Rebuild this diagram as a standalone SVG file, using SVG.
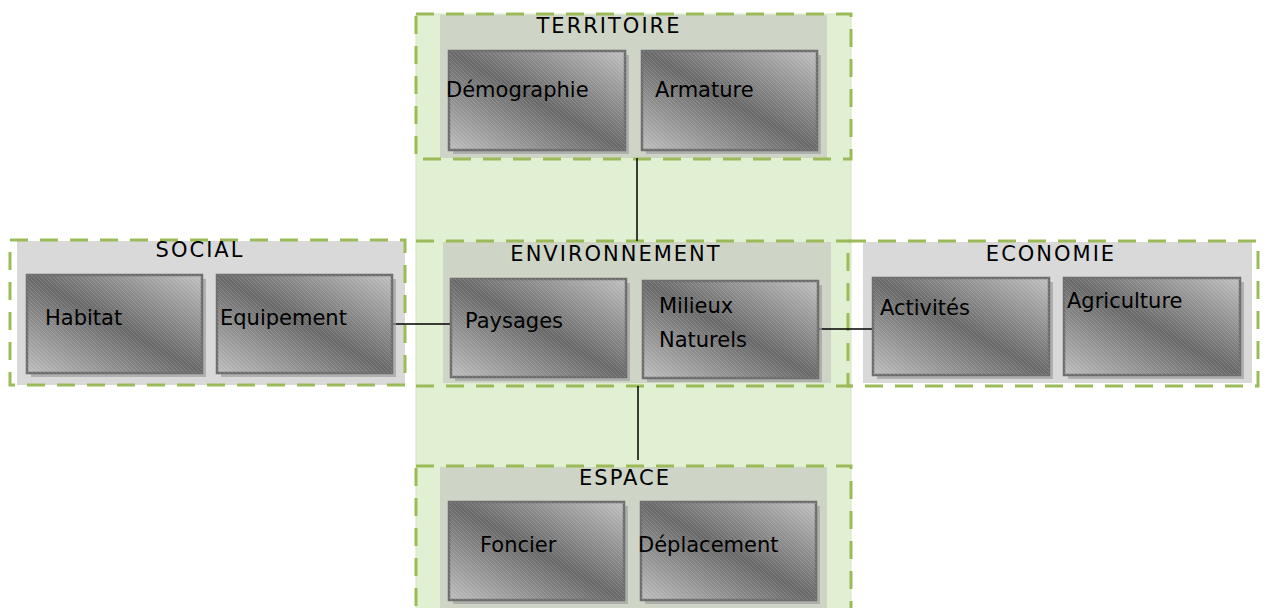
<svg xmlns="http://www.w3.org/2000/svg" width="1267" height="608" viewBox="0 0 1267 608">
<style>
.dash{fill:none;stroke:#9BBB59;stroke-width:3;stroke-dasharray:18 12}
.panelG{fill:#CED5C6}
.panelS{fill:#D9D9D9}
.shadow{fill:#9E9E9E;opacity:0.7}
.box{fill:url(#boxg);stroke:#6E6E6E;stroke-width:2.5}
.hatch{fill:url(#hatch);stroke:none}
.title{font-family:"DejaVu Sans",sans-serif;font-size:21px;fill:#000;text-anchor:middle;letter-spacing:2px}
.lbl{font-family:"DejaVu Sans",sans-serif;font-size:21px;fill:#000}
.conn{stroke:#000;stroke-width:1.5;fill:none}
</style>
<defs>
<linearGradient id="boxg" x1="0" y1="1" x2="1" y2="0">
<stop offset="0" stop-color="#BDBDBD"/>
<stop offset="0.5" stop-color="#686868"/>
<stop offset="1" stop-color="#BFBFBF"/>
</linearGradient>
<pattern id="hatch" width="4" height="4" patternUnits="userSpaceOnUse">
<path d="M0,0 L4,4" stroke="#FFFFFF" stroke-width="0.6" opacity="0.25"/>
</pattern>
</defs>
<rect width="1267" height="608" fill="#FFFFFF"/>
<!-- green band -->
<rect x="416" y="14" width="435" height="600" fill="#E1F0D3" stroke="#D3E4C3" stroke-width="1"/>

<g id="territoire">
<rect class="panelG" x="440" y="15" width="387" height="143"/>
<rect class="dash" x="416" y="14" width="435" height="145"/>
<text class="title" x="609" y="33">TERRITOIRE</text>
</g>
<g id="social">
<rect class="panelS" x="17" y="241" width="388" height="144"/>
<rect class="dash" x="10" y="240" width="395" height="145"/>
<text class="title" x="200" y="257">SOCIAL</text>
</g>
<g id="environnement">
<rect class="panelG" x="443" y="242" width="388" height="141"/>
<line class="dash" x1="416" y1="241" x2="851" y2="241"/>
<line class="dash" x1="416" y1="386" x2="851" y2="386"/>
<text class="title" x="616" y="261">ENVIRONNEMENT</text>
</g>
<g id="economie">
<rect class="panelS" x="863" y="242" width="389" height="141"/>
<rect class="dash" x="848" y="241" width="410" height="145"/>
<text class="title" x="1051" y="261">ECONOMIE</text>
</g>
<g id="espace">
<rect class="panelG" x="440" y="467" width="387" height="150"/>
<rect class="dash" x="416" y="466" width="435" height="160"/>
<text class="title" x="625" y="485">ESPACE</text>
</g>

<g id="connectors">
<line class="conn" x1="637" y1="158" x2="637" y2="241"/>
<line class="conn" x1="638" y1="386" x2="638" y2="460"/>
<line class="conn" x1="392" y1="324" x2="452" y2="324"/>
<line class="conn" x1="818" y1="329" x2="877" y2="329"/>
</g>

<g id="demographie">
<rect class="shadow" x="453" y="55" width="176" height="99"/>
<rect class="box" x="449" y="51" width="176" height="99"/>
<rect class="hatch" x="449" y="51" width="176" height="99"/>
<text class="lbl" x="446" y="97">Démographie</text>
</g>
<g id="armature">
<rect class="shadow" x="646" y="55" width="175" height="99"/>
<rect class="box" x="642" y="51" width="175" height="99"/>
<rect class="hatch" x="642" y="51" width="175" height="99"/>
<text class="lbl" x="655" y="97">Armature</text>
</g>
<g id="habitat">
<rect class="shadow" x="31" y="279" width="175" height="98"/>
<rect class="box" x="27" y="275" width="175" height="98"/>
<rect class="hatch" x="27" y="275" width="175" height="98"/>
<text class="lbl" x="45" y="325">Habitat</text>
</g>
<g id="equipement">
<rect class="shadow" x="221" y="279" width="175" height="98"/>
<rect class="box" x="217" y="275" width="175" height="98"/>
<rect class="hatch" x="217" y="275" width="175" height="98"/>
<text class="lbl" x="220" y="325">Equipement</text>
</g>
<g id="paysages">
<rect class="shadow" x="455" y="283" width="175" height="98"/>
<rect class="box" x="451" y="279" width="175" height="98"/>
<rect class="hatch" x="451" y="279" width="175" height="98"/>
<text class="lbl" x="465" y="328">Paysages</text>
</g>
<g id="milieux-naturels">
<rect class="shadow" x="647" y="285" width="175" height="97"/>
<rect class="box" x="643" y="281" width="175" height="97"/>
<rect class="hatch" x="643" y="281" width="175" height="97"/>
<text class="lbl" x="659" y="313">Milieux</text>
<text class="lbl" x="659" y="347">Naturels</text>
</g>
<g id="activites">
<rect class="shadow" x="877" y="282" width="176" height="97"/>
<rect class="box" x="873" y="278" width="176" height="97"/>
<rect class="hatch" x="873" y="278" width="176" height="97"/>
<text class="lbl" x="880" y="315">Activités</text>
</g>
<g id="agriculture">
<rect class="shadow" x="1068" y="282" width="176" height="97"/>
<rect class="box" x="1064" y="278" width="176" height="97"/>
<rect class="hatch" x="1064" y="278" width="176" height="97"/>
<text class="lbl" x="1067" y="308">Agriculture</text>
</g>
<g id="foncier">
<rect class="shadow" x="453" y="506" width="175" height="98"/>
<rect class="box" x="449" y="502" width="175" height="98"/>
<rect class="hatch" x="449" y="502" width="175" height="98"/>
<text class="lbl" x="480" y="552">Foncier</text>
</g>
<g id="deplacement">
<rect class="shadow" x="645" y="506" width="175" height="98"/>
<rect class="box" x="641" y="502" width="175" height="98"/>
<rect class="hatch" x="641" y="502" width="175" height="98"/>
<text class="lbl" x="638" y="552">Déplacement</text>
</g>
</svg>
